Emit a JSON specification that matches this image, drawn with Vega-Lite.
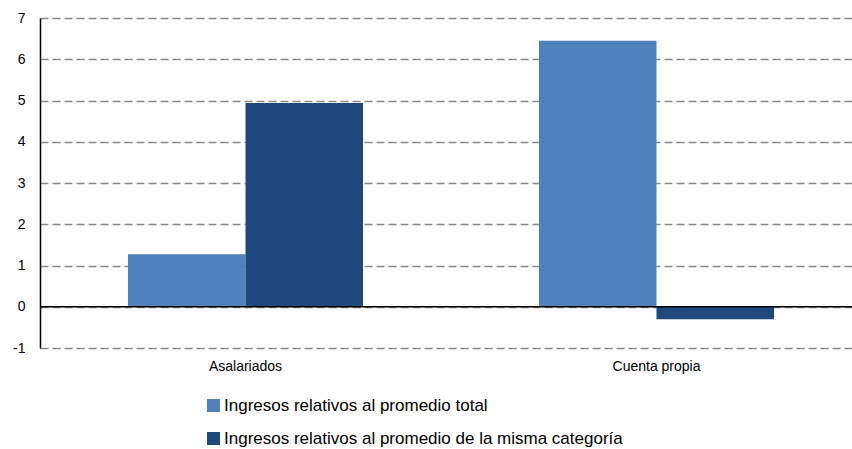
{
  "$schema": "https://vega.github.io/schema/vega-lite/v6.json",
  "width": 822,
  "height": 330,
  "autosize": {"type": "none"},
  "padding": {"left": 40, "top": 18, "right": 0, "bottom": 101},
  "background": "white",
  "config": {
    "view": {"stroke": null},
    "font": "Liberation Sans",
    "axis": {"grid": false, "labelColor": "black", "labelFont": "Liberation Sans"}
  },
  "data": {
    "values": [
      {"categoria": "Asalariados", "serie": "Ingresos relativos al promedio total", "valor": 1.27},
      {"categoria": "Asalariados", "serie": "Ingresos relativos al promedio de la misma categoría", "valor": 4.94},
      {"categoria": "Cuenta propia", "serie": "Ingresos relativos al promedio total", "valor": 6.45},
      {"categoria": "Cuenta propia", "serie": "Ingresos relativos al promedio de la misma categoría", "valor": -0.3}
    ]
  },
  "layer": [
    {
      "mark": {"type": "bar"},
      "encoding": {
        "x": {
          "field": "categoria",
          "type": "nominal",
          "sort": ["Asalariados", "Cuenta propia"],
          "scale": {"paddingInner": 0.428, "paddingOuter": 0.214},
          "axis": {"title": null, "labelAngle": 0, "domain": false, "ticks": false, "labelPadding": 11, "labelFontSize": 14}
        },
        "xOffset": {
          "field": "serie",
          "type": "nominal",
          "sort": ["Ingresos relativos al promedio total", "Ingresos relativos al promedio de la misma categoría"],
          "scale": {"paddingInner": 0, "paddingOuter": 0}
        },
        "y": {
          "field": "valor",
          "type": "quantitative",
          "scale": {"domain": [-1, 7], "nice": false},
          "axis": {
            "title": null,
            "values": [-1, 0, 1, 2, 3, 4, 5, 6, 7],
            "labelExpr": "datum.value < 0 ? '-' + abs(datum.value) : '' + datum.value",
            "domain": true,
            "domainColor": "black",
            "domainWidth": 1.5,
            "ticks": false,
            "grid": true,
            "gridDash": [8, 4],
            "gridColor": "#8a8a8a",
            "gridWidth": 1.5,
            "labelFontSize": 14,
            "labelPadding": 15
          }
        },
        "color": {
          "field": "serie",
          "type": "nominal",
          "sort": ["Ingresos relativos al promedio total", "Ingresos relativos al promedio de la misma categoría"],
          "scale": {"range": ["#4F81BD", "#1F497D"]},
          "legend": {
            "orient": "none",
            "direction": "vertical",
            "legendX": 165,
            "legendY": 379,
            "title": null,
            "symbolType": "square",
            "symbolSize": 169,
            "symbolStrokeWidth": 0,
            "labelFontSize": 17,
            "labelColor": "black",
            "labelOffset": 2,
            "labelLimit": 700,
            "rowPadding": 15
          }
        }
      }
    },
    {
      "data": {"values": [{"cero": 0}]},
      "mark": {"type": "rule", "color": "black", "strokeWidth": 1.5},
      "encoding": {"y": {"field": "cero", "type": "quantitative"}}
    }
  ]
}
